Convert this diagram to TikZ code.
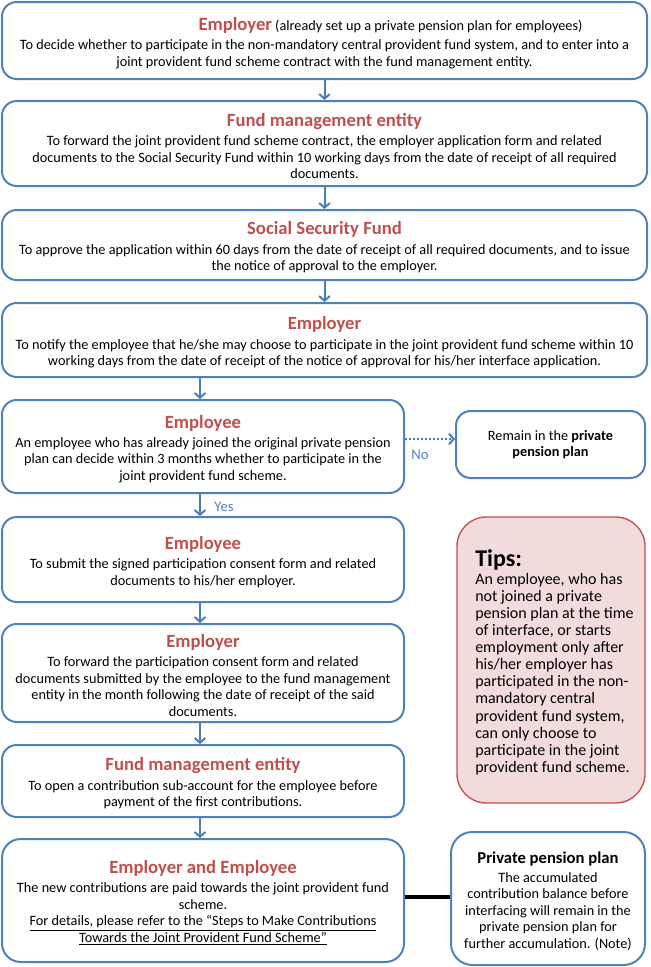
\documentclass[tikz,border=0pt]{standalone}
\usepackage{fontspec}
\setmainfont{Carlito}
\usetikzlibrary{arrows.meta,calc}
\definecolor{boxblue}{HTML}{4F81BD}
\definecolor{arrblue}{HTML}{4A7EBB}
\definecolor{titlered}{HTML}{C0504D}
\definecolor{tipsfill}{HTML}{F2DCDB}
\definecolor{tipsborder}{HTML}{C0504D}
\definecolor{lblblue}{HTML}{4F81BD}
\newcommand{\ttl}[1]{{\fontsize{14}{14}\selectfont\bfseries\color{titlered}\rule{0pt}{13.5pt}#1}}
\tikzset{
  flowbox/.style={draw=boxblue, line width=1.5pt, rounded corners=11pt, fill=white,
    align=center, inner sep=0pt, font=\fontsize{10.7}{12.4}\selectfont},
  widebox/.style={flowbox, minimum width=483.75pt},
  midbox/.style={flowbox, minimum width=301.5pt},
  tipsbox/.style={draw=tipsborder, line width=1pt, rounded corners=22pt, fill=tipsfill, inner sep=0pt},
  tipstext/.style={align=left, inner sep=0pt, font=\fontsize{12}{12.8}\selectfont},
  flowarrow/.style={draw=arrblue, line width=1.5pt,
    -{Straight Barb[length=3.5pt,width=8pt,line width=1.5pt]}},
  dotarrow/.style={flowarrow, dash pattern=on 1.5pt off 1.5pt},
  joinline/.style={draw=black, line width=2.5pt},
  lbl/.style={text=lblblue, font=\fontsize{11}{12}\selectfont, inner sep=0pt}
}
\begin{document}
\begin{tikzpicture}[x=0.75pt,y=-0.75pt]
\useasboundingbox (0,0) rectangle (650,967);

\node[widebox, minimum height=57.75pt] (b1) at (324.5,40.5)
 {\hspace*{99pt}\ttl{Employer} (already set up a private pension plan for employees)\\[2pt]
  To decide whether to participate in the non-mandatory central provident fund system, and to enter into a\\
  joint provident fund scheme contract with the fund management entity.};

\node[widebox, minimum height=63.75pt] (b2) at (324.5,143.5)
 {\ttl{Fund management entity}\\[2pt]
  To forward the joint provident fund scheme contract, the employer application form and related\\
  documents to the Social Security Fund within 10 working days from the date of receipt of all required\\
  documents.};

\node[widebox, minimum height=52.5pt] (b3) at (324.5,245)
 {\ttl{Social Security Fund}\\[2pt]
  To approve the application within 60 days from the date of receipt of all required documents, and to issue\\
  the notice of approval to the employer.};

\node[widebox, minimum height=55.5pt] (b4) at (324.5,340)
 {\ttl{Employer}\\[2pt]
  To notify the employee that he/she may choose to participate in the joint provident fund scheme within 10\\
  working days from the date of receipt of the notice of approval for his/her interface application.};

\node[midbox, minimum height=69.75pt] (b5) at (203,446.5)
 {\ttl{Employee}\\[2pt]
  An employee who has already joined the original private pension\\
  plan can decide within 3 months whether to participate in the\\
  joint provident fund scheme.};

\node[flowbox, minimum width=141.75pt, minimum height=50.25pt] (no) at (550.5,444.5)
 {Remain in the \textbf{private}\\ \textbf{pension plan}};

\node[midbox, minimum height=63.75pt] (b6) at (203,559.5)
 {\ttl{Employee}\\[2pt]
  To submit the signed participation consent form and related\\
  documents to his/her employer.};

\node[midbox, minimum height=73.5pt] (b7) at (203,673)
 {\ttl{Employer}\\[2pt]
  To forward the participation consent form and related\\
  documents submitted by the employee to the fund management\\
  entity in the month following the date of receipt of the said\\
  documents.};

\node[midbox, minimum height=54pt] (b8) at (203,781)
 {\ttl{Fund management entity}\\[2pt]
  To open a contribution sub-account for the employee before\\
  payment of the first contributions.};

\node[midbox, minimum height=92.25pt, rounded corners=14pt] (b9) at (203,900.5)
 {\ttl{Employer and Employee}\\[2pt]
  The new contributions are paid towards the joint provident fund\\
  scheme.\\
  \underline{For details, please refer to the “Steps to Make Contributions}\\
  \underline{Towards the Joint Provident Fund Scheme”}};

\node[flowbox, minimum width=145.5pt, minimum height=99.75pt, rounded corners=16pt] (ppp) at (548,898.5)
 {{\fontsize{12.5}{12.5}\selectfont\bfseries\rule{0pt}{12.5pt}Private pension plan}\\[1.5pt]
  The accumulated\\
  contribution balance before\\
  interfacing will remain in the\\
  private pension plan for\\
  further accumulation. (Note)};

\node[tipsbox, minimum width=141pt, minimum height=214.5pt] (tips) at (551,660) {};
\node[tipstext, anchor=west] (tipstext) at (475,662)
 {{\fontsize{18}{18}\selectfont\bfseries Tips:}\\[1pt]
  An employee, who has\\
  not joined a private\\
  pension plan at the time\\
  of interface, or starts\\
  employment only after\\
  his/her employer has\\
  participated in the non-\\
  mandatory central\\
  provident fund system,\\
  can only choose to\\
  participate in the joint\\
  provident fund scheme.};

\draw[flowarrow] (b1.south) -- (b2.north);
\draw[flowarrow] (b2.south) -- (b3.north);
\draw[flowarrow] (b3.south) -- (b4.north);
\draw[flowarrow] ([xshift=-2.25pt]b5.north |- b4.south) -- ([xshift=-2.25pt]b5.north);
\draw[flowarrow] ([xshift=-2.25pt]b5.south) -- ([xshift=-2.25pt]b6.north);
\draw[flowarrow] ([xshift=-2.25pt]b6.south) -- ([xshift=-2.25pt]b7.north);
\draw[flowarrow] ([xshift=-2.25pt]b7.south) -- ([xshift=-2.25pt]b8.north);
\draw[flowarrow] ([xshift=-2.25pt]b8.south) -- ([xshift=-2.25pt]b9.north);
\draw[dotarrow] (b5.east |- 0,439) -- (no.west |- 0,439);
\draw[joinline] (b9.east |- 0,897) -- (ppp.west |- 0,897);

\node[lbl] (nolbl) at (420,455) {No};
\node[lbl] (yeslbl) at (224,507) {Yes};
\end{tikzpicture}
\end{document}
